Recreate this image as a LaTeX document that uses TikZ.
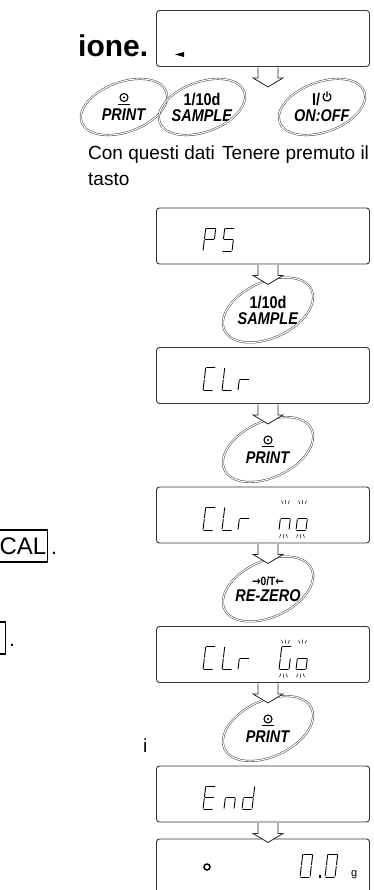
\documentclass[tikz,border=0pt]{standalone}
\usepackage{fontspec}
\setmainfont{Liberation Sans}
\newfontfamily\dejavu{DejaVu Sans}
\usepackage{tikz}
\usetikzlibrary{positioning, calc}

\newcommand{\narrow}[1]{\scalebox{0.85}[1]{#1}}
\def\sega{(0.8,23)--(9.2,23)}
\def\segb{(10,22.2)--(10,12.3)}
\def\segc{(10,10.7)--(10,0.8)}
\def\segd{(0.8,0)--(9.2,0)}
\def\sege{(0,0.8)--(0,10.7)}
\def\segf{(0,12.3)--(0,22.2)}
\def\segg{(0.8,11.5)--(9.2,11.5)}
\newcommand{\lcdchar}[4]{%
  \begin{scope}[shift={($(#1)+(#2,#3)$)}, xslant=0.12]
    \foreach \s in {#4}{\draw[segline] \csname seg\s\endcsname;}
  \end{scope}}
\newcommand{\lcdblink}[3]{%
  \begin{scope}[shift={($(#1)+(#2,#3)$)}]
    \draw[blinkline] (4,26) -- (2.5,29.5) (6.5,26) -- (6.5,30) (9,26) -- (10.5,29.5);
    \draw[blinkline] (2,-4) -- (0.5,-7.5) (4.5,-4) -- (4.5,-8) (7,-4) -- (8.5,-7.5);
  \end{scope}}

\tikzset{
  lcdbox/.style={draw=black!80, line width=0.9pt, rounded corners=3pt, minimum width=213pt, minimum height=56pt},
  keytext/.style={align=center, inner sep=0pt, font=\bfseries\fontsize{17}{16}\selectfont},
  keyring/.style={draw=black!80, line width=0.45pt, double=white, double distance=1.1pt},
  segline/.style={line width=0.9pt, line cap=round},
  blinkline/.style={line width=0.5pt},
  hollow/.style={draw=black!85, line width=0.8pt, fill=white, line join=miter},
  framed/.style={draw, line width=1.4pt, minimum height=32pt, inner xsep=1pt, inner ysep=0pt},
  pics/downarrow/.style={code={
    \draw[hollow] (-10,-0.4) -- (-10,-11) -- (-15,-11) -- (0,-20) -- (15,-11) -- (10,-11) -- (10,-0.4);
  }},
  pics/printmark/.style={code={
    \draw[line width=1.1pt] (0,0) circle (4);
    \fill (0,0) circle (1.1);
    \draw[line width=1.3pt] (-6,-6.8) -- (6,-6.8);
  }},
}

\begin{document}
\begin{tikzpicture}[x=1pt, y=1pt, on grid]
  \useasboundingbox (0,0) rectangle (374,-890);
  \clip (0,0) rectangle (374,-890);

  \node[lcdbox] (d0) at (263,-38.5) {};
  \node[lcdbox, below=197.5pt of d0] (d1) {};
  \node[lcdbox, below=139.5pt of d1] (d2) {};
  \node[lcdbox, below=139.5pt of d2] (d3) {};
  \node[lcdbox, below=139.5pt of d3] (d4) {};
  \node[lcdbox, below=139.5pt of d4] (d5) {};
  \node[lcdbox, below=73pt of d5] (d6) {};

  \node[keytext] (kp) at (124,-107) {\rule{0pt}{12pt}\\\narrow{\textit{PRINT}}};
  \node[keytext, right=78pt of kp] (ks) {\narrow{1/10d}\\\narrow{\textit{SAMPLE}}};
  \node[keytext, right=120pt of ks] (ko) {\narrow{I/\kern14pt}\\\narrow{\textit{ON:OFF}}};
  \node[keytext, below=74pt of d1, xshift=5pt] (k1) {\narrow{1/10d}\\\narrow{\textit{SAMPLE}}};
  \node[keytext, below=74pt of d2, xshift=5pt] (k2) {\rule{0pt}{12pt}\\\narrow{\textit{PRINT}}};
  \node[keytext, below=74pt of d3, xshift=5pt] (k3) {\narrow{\fontsize{12}{12}\selectfont{\dejavu →}0/T{\dejavu ←}}\\\narrow{\textit{RE-ZERO}}};
  \node[keytext, below=74pt of d4, xshift=5pt] (k4) {\rule{0pt}{12pt}\\\narrow{\textit{PRINT}}};

  \foreach \k/\a/\b/\r in {kp/45/25/20, ks/45/25/20, ko/45/25/20, k1/48/28/25, k2/48/28/25, k3/48/28/25, k4/48/28/25}
    \draw[keyring, rotate around={\r:(\k)}] (\k) ellipse [x radius=\a, y radius=\b];
  \foreach \k in {kp,k2,k4}
    \pic at ($(\k)+(0,9.5)$) {printmark};
  \draw[line width=1.2pt, shift={(ko)}] (5,10) ++(60:4) arc[start angle=60, end angle=-240, radius=4]
    (5,10) -- ++(0,5.5);

  \pic at (d0.south -| k1) {downarrow};
  \pic at (d1.south -| k1) {downarrow};
  \pic at (d2.south -| k2) {downarrow};
  \pic at (d3.south -| k3) {downarrow};
  \pic at (d4.south -| k4) {downarrow};
  \pic at (d5.south -| k4) {downarrow};

  \fill ($(d0)+(-88,-16)$) -- ++(9,2.5) -- ++(0,-5) -- cycle;
  \lcdchar{d1}{-60}{-15}{a,b,f,g,e}
  \lcdchar{d1}{-41}{-15}{a,f,g,c,d}
  \foreach \d in {d2,d3,d4}{
    \lcdchar{\d}{-60}{-15}{a,f,e,d}
    \lcdchar{\d}{-41}{-15}{f,e,d}
    \lcdchar{\d}{-25}{-15}{g,e}
  }
  \lcdchar{d3}{16}{-15}{g,c,e}
  \lcdchar{d3}{33}{-15}{g,c,d,e}
  \lcdchar{d4}{16}{-15}{a,f,e,d,c}
  \lcdchar{d4}{33}{-15}{g,c,d,e}
  \foreach \d in {d3,d4}{
    \lcdblink{\d}{16}{-15}
    \lcdblink{\d}{33}{-15}
  }
  \lcdchar{d5}{-60}{-15}{a,f,g,e,d}
  \lcdchar{d5}{-39}{-15}{g,c,e}
  \lcdchar{d5}{-21}{-15}{b,c,d,e,g}
  \draw[line width=1.5pt] ($(d6)+(-56,0)$) circle (3);
  \lcdchar{d6}{37}{-10}{a,b,c,d,e,f}
  \fill ($(d6)+(55.5,-10.5)$) rectangle ++(2.4,2.4);
  \lcdchar{d6}{62}{-10}{a,b,c,d,e,f}
  \node[inner sep=0pt, anchor=base west, font=\fontsize{11}{12}\selectfont] (unit) at ($(d6)+(88,-9)$) {g};

  \node[inner sep=0pt, anchor=base west, font=\bfseries\fontsize{30}{36}\selectfont] (head) at (78,-57) {ione.};
  \node[inner sep=0pt, anchor=base west, font=\fontsize{19}{23}\selectfont] (cap1) at (88,-160) {Con questi dati};
  \node[inner sep=0pt, anchor=base west, font=\fontsize{19}{23}\selectfont] (cap2) at (222,-160) {Tenere premuto il};
  \node[inner sep=0pt, anchor=base west, font=\fontsize{19}{23}\selectfont] (cap3) at (88,-186) {tasto};

  \node[framed, anchor=east, font=\fontsize{24}{28}\selectfont] (cal) at (48,-546) {CAL};
  \node[inner sep=0pt, anchor=base west, font=\fontsize{21}{25}\selectfont] (caldot) at ($(cal.base east)+(3,0)$) {.};
  \node[framed, anchor=east, minimum width=24pt, font=\fontsize{24}{28}\selectfont] (key) at (6,-638) {\phantom{A}};
  \node[inner sep=0pt, anchor=base west, font=\fontsize{21}{25}\selectfont] (keydot) at ($(key.base east)+(3,0)$) {.};
  \node[inner sep=0pt, anchor=base west, font=\fontsize{19}{23}\selectfont] (itxt) at (143,-752) {i};
\end{tikzpicture}
\end{document}
